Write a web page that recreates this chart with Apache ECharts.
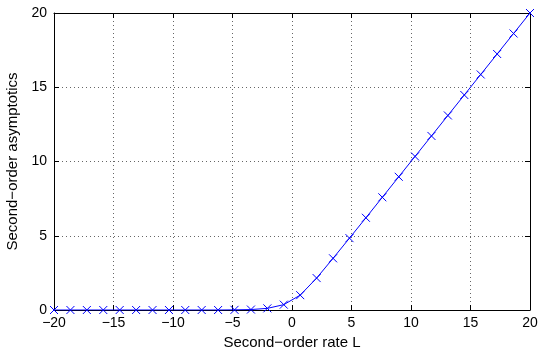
<html>
<head>
<meta charset="utf-8">
<title>Second-order asymptotics</title>
<script src="https://cdn.jsdelivr.net/npm/echarts@6/dist/echarts.min.js"></script>
<style>
body { margin: 0; background: #fff; }
#chart { width: 541px; height: 352px; }
</style>
</head>
<body>
<div id="chart"></div>
<script>
// rate L (x) and asymptotic value (y)
var rateL = [-20, -18.62, -17.24, -15.86, -14.48, -13.10, -11.72, -10.34, -8.97, -7.59,
	-6.21, -4.83, -3.45, -2.07, -0.69, 0.69, 2.07, 3.45, 4.83, 6.21,
	7.59, 8.97, 10.34, 11.72, 13.10, 14.48, 15.86, 17.24, 18.62, 20];
var asym = [0, 0, 0, 0, 0, 0, 0, 0, 0, 0,
	0, 0.01, 0.03, 0.11, 0.36, 1.0, 2.15, 3.48, 4.84, 6.21,
	7.59, 8.97, 10.34, 11.72, 13.10, 14.48, 15.86, 17.24, 18.62, 20];
var xTicks = [-20, -15, -10, -5, 0, 5, 10, 15, 20];
var yTicks = [0, 5, 10, 15, 20];

var pts = [];
for (var i = 0; i < rateL.length; i++) {
	pts.push([rateL[i], asym[i]]);
}

// MATLAB prints a real minus sign
function minus(v) {
	return String(v).replace('-', '\u2212');
}

var font = 'Liberation Sans, Arial, Helvetica, sans-serif';
var black = '#000';

function axisBase(min, max, step, pos, show) {
	return {
		type: 'value',
		position: pos,
		min: min,
		max: max,
		interval: step,
		axisLine: { show: true, onZero: false, lineStyle: { color: black, width: 1 } },
		axisTick: { show: true, inside: true, length: 5, lineStyle: { color: black } },
		axisLabel: { show: show, color: black, fontFamily: font, fontSize: 14, formatter: minus },
		splitLine: { show: false }
	};
}

var xMain = axisBase(xTicks[0], xTicks[xTicks.length - 1], 5, 'bottom', true);
xMain.axisLabel.margin = 6;
xMain.splitLine = { show: true, lineStyle: { color: '#666', type: [1, 3], width: 1 } };
xMain.name = 'Second\u2212order rate L';
xMain.nameLocation = 'middle';
xMain.nameGap = 24;
xMain.nameTextStyle = { color: black, fontFamily: font, fontSize: 15 };

var yMain = axisBase(yTicks[0], yTicks[yTicks.length - 1], 5, 'left', true);
yMain.axisLabel.margin = 7;
yMain.splitLine = { show: true, lineStyle: { color: '#666', type: [1, 3], width: 1 } };
yMain.name = 'Second\u2212order asymptotics';
yMain.nameLocation = 'middle';
yMain.nameGap = 27;
yMain.nameTextStyle = { color: black, fontFamily: font, fontSize: 15 };

var xTop = axisBase(xTicks[0], xTicks[xTicks.length - 1], 5, 'top', false);
var yRight = axisBase(yTicks[0], yTicks[yTicks.length - 1], 5, 'right', false);

var chart = echarts.init(document.getElementById('chart'));
chart.setOption({
	animation: false,
	backgroundColor: '#fff',
	grid: { left: 54, right: 11, top: 13, bottom: 42, outerBoundsMode: 'none', containLabel: false },
	xAxis: [xMain, xTop],
	yAxis: [yMain, yRight],
	series: [{
		type: 'line',
		xAxisIndex: 0,
		yAxisIndex: 0,
		data: pts,
		showAllSymbol: true,
		symbol: 'path://M0,0L10,10M10,0L0,10',
		symbolSize: 8,
		lineStyle: { color: '#0000ff', width: 1 },
		itemStyle: { color: '#0000ff', borderColor: '#0000ff', borderWidth: 1 },
		z: 5
	}]
});
</script>
</body>
</html>
